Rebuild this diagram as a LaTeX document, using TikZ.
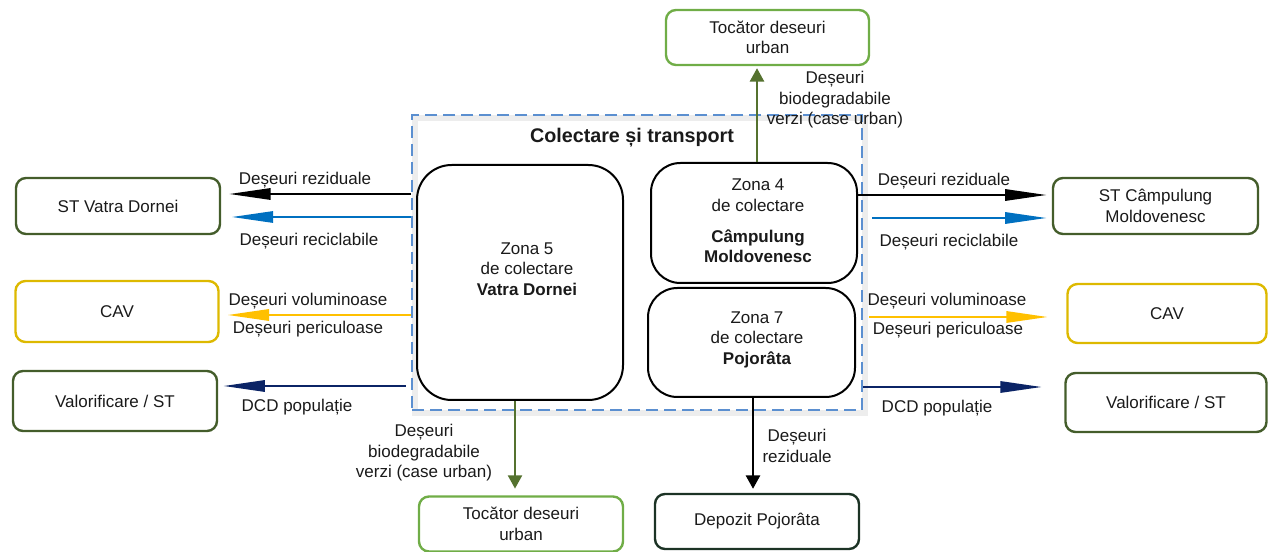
\documentclass[tikz,border=0pt]{standalone}
\usepackage{fontspec}
\setmainfont{Liberation Sans}
\usetikzlibrary{arrows.meta}
\definecolor{dkgreen}{HTML}{445D2B}
\definecolor{ltgreen}{HTML}{70AD47}
\definecolor{argreen}{HTML}{55722F}
\definecolor{cavyel}{HTML}{DDB900}
\definecolor{aryel}{HTML}{FFC000}
\definecolor{arblue}{HTML}{0070C0}
\definecolor{arnavy}{HTML}{0B2466}
\definecolor{frameblue}{HTML}{5B8FD0}
\definecolor{depgreen}{HTML}{1C3325}
\definecolor{txt}{HTML}{1A1A1A}
\begin{document}
\begin{tikzpicture}[x=0.75pt,y=-0.75pt,
  every node/.style={font=\fontsize{12.75pt}{15.4pt}\selectfont, text=txt, inner sep=0pt},
  outbox/.style={draw, line width=1.8pt, rounded corners=7.5pt, align=center},
  zonebox/.style={draw=black, line width=1.5pt, rounded corners=22pt},
  lbl/.style={align=center},
  harr/.style={line width=1.5pt, -{Triangle[length=31pt,width=8.5pt]}},
  varr/.style={line width=1.8pt, -{Triangle[length=10pt,width=10.5pt]}}]
\useasboundingbox (0,0) rectangle (1268,552);
% dashed frame with soft shadow
\draw[black!7, line width=4pt] (415,118) rectangle (865,413);
\node[draw=frameblue, line width=1.5pt, dash pattern=on 9pt off 4.5pt, minimum width=450*0.75pt, minimum height=295*0.75pt] (frame) at (637,262.5) {};
\node[font=\fontsize{14.8pt}{17pt}\selectfont\bfseries] (title) at (632,138) {Colectare și transport};
% zones
\node[zonebox, fill=white, minimum width=206*0.75pt, minimum height=235*0.75pt, rounded corners=26pt] (z5) at (520,282.5) {};
\node[zonebox, fill=white, minimum width=206*0.75pt, minimum height=120*0.75pt] (z4) at (754,223) {};
\node[zonebox, fill=white, minimum width=207*0.75pt, minimum height=109*0.75pt] (z7) at (751.5,342.5) {};
\node[lbl] (z5t) at (527,269) {Zona 5\\de colectare\\\textbf{Vatra Dornei}};
\node[lbl] (z4t) at (758,221) {Zona 4\\de colectare\\[7.5pt]\textbf{Câmpulung}\\\textbf{Moldovenesc}};
\node[lbl] (z7t) at (757,339.5) {Zona 7\\de colectare\\\textbf{Pojorâta}};
% outer boxes
\node[outbox, draw=dkgreen, minimum width=204*0.75pt, minimum height=56*0.75pt] (stvd) at (118,206) {ST Vatra Dornei};
\node[outbox, draw=cavyel, minimum width=203*0.75pt, minimum height=61*0.75pt] (cavl) at (117,311.5) {CAV};
\node[outbox, draw=dkgreen, minimum width=204*0.75pt, minimum height=60*0.75pt] (vall) at (115,401) {Valorificare / ST};
\node[outbox, draw=dkgreen, minimum width=205*0.75pt, minimum height=56*0.75pt] (stcm) at (1155.5,206) {ST Câmpulung\\Moldovenesc};
\node[outbox, draw=cavyel, minimum width=199*0.75pt, minimum height=59*0.75pt] (cavr) at (1167,313.5) {CAV};
\node[outbox, draw=dkgreen, minimum width=201*0.75pt, minimum height=59*0.75pt] (valr) at (1166,402.5) {Valorificare / ST};
\node[outbox, draw=ltgreen, minimum width=203*0.75pt, minimum height=55*0.75pt] (toct) at (767.5,37.5) {Tocător deseuri\\urban};
\node[outbox, draw=ltgreen, minimum width=204*0.75pt, minimum height=55*0.75pt] (tocb) at (521,524) {Tocător deseuri\\urban};
\node[outbox, draw=depgreen, minimum width=204*0.75pt, minimum height=55*0.75pt] (dep) at (757,521.5) {Depozit Pojorâta};
% left arrows
\draw[harr, black] (frame.west |- 0,194) -- ([xshift=6pt]stvd.east |- 0,194);
\draw[harr, arblue] (frame.west |- 0,217) -- ([xshift=8pt]stvd.east |- 0,217);
\draw[harr, aryel] (frame.west |- 0,315) -- ([xshift=6pt]cavl.east |- 0,315);
\draw[harr, arnavy] ([xshift=-4pt]frame.west |- 0,386) -- ([xshift=4pt]vall.east |- 0,386);
\node (l1) at (305,180) {Deșeuri reziduale};
\node (l2) at (309,241) {Deșeuri reciclabile};
\node (l3) at (308,301) {Deșeuri voluminoase};
\node (l4) at (308,329) {Deșeuri periculoase};
\node (l5) at (297,407) {DCD populație};
% right arrows
\draw[harr, black] (z4.east |- 0,195) -- ([xshift=-4pt]stcm.west |- 0,195);
\draw[harr, arblue] ([xshift=7pt]frame.east |- 0,218) -- ([xshift=-4pt]stcm.west |- 0,218);
\draw[harr, aryel] ([xshift=4.5pt]frame.east |- 0,317) -- ([xshift=-14pt]cavr.west |- 0,317);
\draw[harr, arnavy] (frame.east |- 0,387) -- ([xshift=-17pt]valr.west |- 0,387);
\node (r1) at (944,181) {Deșeuri reziduale};
\node (r2) at (949,242) {Deșeuri reciclabile};
\node (r3) at (947,301) {Deșeuri voluminoase};
\node (r4) at (948,330) {Deșeuri periculoase};
\node (r5) at (937,408) {DCD populație};
% vertical arrows
\draw[varr, argreen] (z4.north -| 757,0) -- ([yshift=-1.5pt]toct.south -| 757,0);
\node[lbl] (tl) at (835,100) {Deșeuri\\biodegradabile\\verzi (case urban)};
\draw[varr, argreen] (z5.south -| 515,0) -- ([yshift=5pt]tocb.north -| 515,0);
\node[lbl] (bl) at (424,453) {Deșeuri\\biodegradabile\\verzi (case urban)};
\draw[varr, black] (z7.south -| 753,0) -- ([yshift=3pt]dep.north -| 753,0);
\node[lbl] (dl) at (797,446) {Deșeuri\\reziduale};
\end{tikzpicture}
\end{document}
